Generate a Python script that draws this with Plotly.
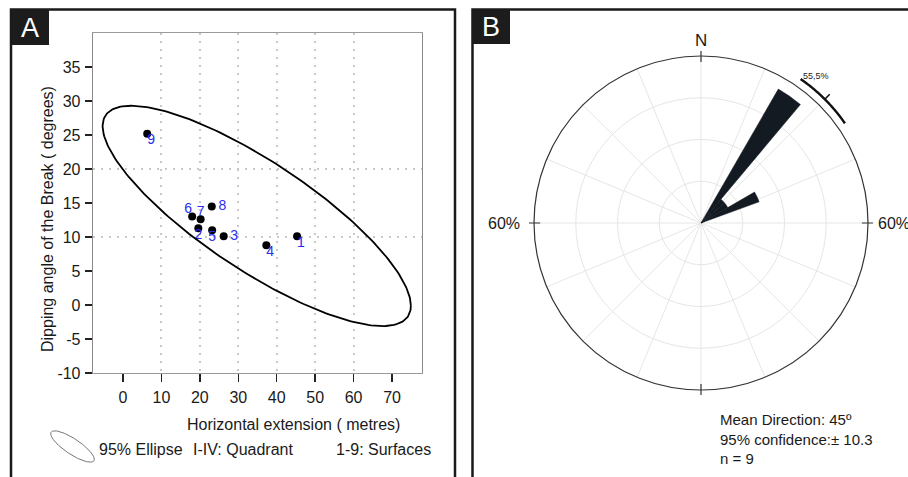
import numpy as np
import plotly.graph_objects as go

W, H = 908, 477
FONT = "Liberation Sans, Arial, sans-serif"

# ---------------- Panel A data ----------------
surface_ids = ["1", "2", "3", "4", "5", "6", "7", "8", "9"]
horizontal_extension_m = [45.3, 19.6, 26.2, 37.3, 23.2, 18.0, 20.2, 23.1, 6.3]
dipping_angle_deg = [10.1, 11.3, 10.1, 8.8, 11.0, 13.0, 12.6, 14.5, 25.2]
label_positions = ["bottom right", "bottom center", "middle right", "bottom right",
                   "bottom center", "top left", "top center", "middle right", "bottom right"]
label_gap = [0, 0, 9, 0, 0, 0, 0, 9, 0]  # invisible marker sizes that push side labels off the dots

x_tick_values = [0, 10, 20, 30, 40, 50, 60, 70]
y_tick_values = [-10, -5, 0, 5, 10, 15, 20, 25, 30, 35]
x_grid_values = [10, 20, 30, 40, 50, 60]
y_grid_values = [10, 20]

# 95% ellipse parameters (centre, half extents along x and y, phase between them)
ellipse_centre = (34.8, 13.1)
ellipse_half_extent = (40.1, 16.2)
ellipse_phase_deg = 144.6

# ---------------- Panel B data ----------------
bin_centres_deg = [35, 45, 55, 65]
bin_counts = [5, 1, 1, 2]
bin_width_deg = 10
n_total = 9
mean_direction_deg = 45
confidence_deg = 10.3
radial_max_pct = 60
peak_label = "55,5%"
legend_labels = ["95% Ellipse", "I-IV: Quadrant", "1-9: Surfaces"]
stats_lines = ["Mean Direction: 45º", "95% confidence:± 10.3", "n = 9"]


def fx(px):
    return px / W


def fy(py):
    return 1 - py / H


# ellipse outline
t = np.linspace(0, 2 * np.pi, 240)
ell_x = ellipse_centre[0] + ellipse_half_extent[0] * np.cos(t)
ell_y = ellipse_centre[1] + ellipse_half_extent[1] * np.cos(t - np.radians(ellipse_phase_deg))

fig = go.Figure()

# points
fig.add_trace(go.Scatter(
    x=horizontal_extension_m, y=dipping_angle_deg, mode="markers",
    marker=dict(size=8, color="black"), xaxis="x", yaxis="y",
    showlegend=False, cliponaxis=False, hoverinfo="skip"))
# point labels
fig.add_trace(go.Scatter(
    x=horizontal_extension_m, y=dipping_angle_deg, mode="markers+text",
    marker=dict(size=label_gap, opacity=0),
    text=surface_ids, textposition=label_positions,
    textfont=dict(family=FONT, size=14, color="#2a2cf0"),
    xaxis="x", yaxis="y", showlegend=False, cliponaxis=False, hoverinfo="skip"))

# ellipse on the overlay axes (same scale)
fig.add_trace(go.Scatter(
    x=ell_x, y=ell_y, mode="lines", line=dict(color="black", width=1.8),
    xaxis="x2", yaxis="y2", showlegend=False, hoverinfo="skip"))

# legend icon: the same ellipse, small
fig.add_trace(go.Scatter(
    x=ell_x, y=ell_y, mode="lines", line=dict(color="#777777", width=1),
    xaxis="x3", yaxis="y3", showlegend=False, hoverinfo="skip"))

# rose petals
pct = [c / n_total * 100 for c in bin_counts]
fig.add_trace(go.Barpolar(
    r=pct, theta=bin_centres_deg, width=[bin_width_deg] * len(pct),
    marker=dict(color="#131a22", line=dict(color="#131a22", width=0.5)),
    subplot="polar", showlegend=False, hoverinfo="skip"))

# confidence arc (on the wider overlay polar)
arc_r = 62.9
arc_theta = np.linspace(mean_direction_deg - confidence_deg, mean_direction_deg + confidence_deg, 60)
fig.add_trace(go.Scatterpolar(
    r=[arc_r] * len(arc_theta), theta=arc_theta, mode="lines",
    line=dict(color="#111111", width=2.4), subplot="polar2",
    showlegend=False, hoverinfo="skip"))
fig.add_trace(go.Scatterpolar(
    r=[arc_r, arc_r + 2.5], theta=[mean_direction_deg, mean_direction_deg], mode="lines",
    line=dict(color="#111111", width=1.6), subplot="polar2",
    showlegend=False, hoverinfo="skip"))

# cardinal ticks crossing the outer circle
ct_r, ct_th = [], []
for ang in [0, 90, 180, 270]:
    ct_r += [57.8, 61.8, None]
    ct_th += [ang, ang, None]
fig.add_trace(go.Scatterpolar(
    r=ct_r, theta=ct_th, mode="lines", line=dict(color="#333333", width=1.2),
    subplot="polar2", showlegend=False, hoverinfo="skip", connectgaps=False))

# ---------------- layout ----------------
x_dom = [fx(93), fx(422)]
y_dom = [fy(373), fy(33)]
x_rng = [-7.8, 77.8]
y_rng = [-10, 40]

cx_pol, cy_pol, R = 701, 223, 167
R2 = R * 66 / 60

axis_common = dict(zeroline=False, showgrid=False, automargin=False)

fig.update_layout(
    width=W, height=H, margin=dict(l=0, r=0, t=0, b=0, pad=0, autoexpand=False), autosize=False,
    showlegend=False,
    paper_bgcolor="white", plot_bgcolor="white",
    font=dict(family=FONT, color="#1a1a1a"),
    xaxis=dict(domain=x_dom, range=x_rng, tickmode="array", tickvals=x_tick_values,
               ticktext=[str(v) for v in x_tick_values],
               ticks="outside", ticklen=8, tickwidth=1.5, tickcolor="#222",
               showline=True, linecolor="#9a9a9a", linewidth=1.3, mirror=True,
               tickfont=dict(size=16, color="#1a1a1a"), ticklabelstandoff=1,
               anchor="y", **axis_common),
    yaxis=dict(domain=y_dom, range=y_rng, tickmode="array", tickvals=y_tick_values,
               ticktext=[str(v) for v in y_tick_values],
               ticks="outside", ticklen=7, tickwidth=1.5, tickcolor="#222",
               showline=True, linecolor="#8a8a8a", linewidth=1.3, mirror=True,
               tickfont=dict(size=16, color="#1a1a1a"), ticklabelstandoff=1,
               anchor="x", **axis_common),
    xaxis2=dict(domain=x_dom, range=x_rng, overlaying="x", anchor="y2",
                tickmode="array", tickvals=x_grid_values, showticklabels=False, ticks="",
                showgrid=True, gridcolor="#c8c8c8", gridwidth=2, griddash="2px,6px",
                zeroline=False, showline=False, automargin=False),
    yaxis2=dict(domain=y_dom, range=y_rng, overlaying="y", anchor="x2",
                tickmode="array", tickvals=y_grid_values, showticklabels=False, ticks="",
                showgrid=True, gridcolor="#c8c8c8", gridwidth=2, griddash="2px,6px",
                zeroline=False, showline=False, automargin=False),
    xaxis3=dict(domain=[fx(50), fx(95)],
                range=[ellipse_centre[0] - ellipse_half_extent[0] * 1.03,
                       ellipse_centre[0] + ellipse_half_extent[0] * 1.03],
                visible=False, anchor="y3", automargin=False),
    yaxis3=dict(domain=[fy(463), fy(430)],
                range=[ellipse_centre[1] - ellipse_half_extent[1] * 1.05,
                       ellipse_centre[1] + ellipse_half_extent[1] * 1.05],
                visible=False, anchor="x3", automargin=False),
    polar=dict(
        domain=dict(x=[fx(cx_pol - R), fx(cx_pol + R)], y=[fy(cy_pol + R), fy(cy_pol - R)]),
        bgcolor="white",
        angularaxis=dict(rotation=90, direction="clockwise", tickmode="linear", tick0=0,
                         dtick=22.5, showticklabels=False, ticks="",
                         showline=True, linecolor="#333333", linewidth=1.2,
                         gridcolor="#e6e6e6", gridwidth=1),
        radialaxis=dict(range=[0, radial_max_pct], tickmode="array", tickvals=[15, 30, 45, 60],
                        showticklabels=False, ticks="", showline=False,
                        gridcolor="#e6e6e6", gridwidth=1),
        bargap=0),
    polar2=dict(
        domain=dict(x=[fx(cx_pol - R2), fx(cx_pol + R2)], y=[fy(cy_pol + R2), fy(cy_pol - R2)]),
        bgcolor="rgba(0,0,0,0)",
        angularaxis=dict(rotation=90, direction="clockwise", visible=False, showgrid=False,
                         showline=False, showticklabels=False, ticks=""),
        radialaxis=dict(range=[0, 66], visible=False, showgrid=False, showline=False,
                        showticklabels=False, ticks="")),
)

shapes = [
    # panel frames
    dict(type="rect", xref="paper", yref="paper", x0=fx(11), x1=fx(455), y0=-0.05, y1=fy(9.5),
         line=dict(color="#1a1a1a", width=2.5), fillcolor="rgba(0,0,0,0)", layer="above"),
    dict(type="rect", xref="paper", yref="paper", x0=fx(472.5), x1=1.05, y0=-0.05, y1=fy(9.5),
         line=dict(color="#1a1a1a", width=2.5), fillcolor="rgba(0,0,0,0)", layer="above"),
    # label boxes
    dict(type="rect", xref="paper", yref="paper", x0=fx(11), x1=fx(49), y0=fy(45), y1=fy(9.5),
         line=dict(width=0), fillcolor="#1c1c1c", layer="above"),
    dict(type="rect", xref="paper", yref="paper", x0=fx(472.5), x1=fx(510), y0=fy(44), y1=fy(9.5),
         line=dict(width=0), fillcolor="#1c1c1c", layer="above"),
]
fig.update_layout(shapes=shapes)

ann = []


def add_text(text, x, y, size, xanchor="center", yanchor="middle", color="#1a1a1a", angle=0, align="left"):
    ann.append(dict(text=text, x=fx(x), y=fy(y), xref="paper", yref="paper", showarrow=False,
                    xanchor=xanchor, yanchor=yanchor, textangle=angle, align=align,
                    font=dict(family=FONT, size=size, color=color)))


add_text("A", 30, 28, 27, color="white")
add_text("B", 491, 27, 27, color="white")
add_text("Dipping angle of the Break ( degrees)", 47, 219, 16, angle=-90)
add_text("Horizontal extension ( metres)", 293.5, 424, 16)
add_text(legend_labels[0], 97, 449, 16, xanchor="left")
add_text(legend_labels[1], 191, 449, 16, xanchor="left")
add_text(legend_labels[2], 334, 449, 16, xanchor="left")
add_text("N", 701, 40, 17)
add_text("60%", 522, 223, 16, xanchor="right")
add_text("60%", 876, 223, 16, xanchor="left")
add_text(peak_label, 816, 76, 9, color="#222")
add_text("<br>".join(stats_lines), 718, 439, 15, xanchor="left")
fig.update_layout(annotations=ann)

post = (
    "document.documentElement.style.margin='0';"
    "document.documentElement.style.overflow='hidden';"
    "document.body.style.margin='0';document.body.style.padding='0';"
    "document.body.style.overflow='hidden';"
    "var gd=document.getElementById('{plot_id}');"
    "gd.style.position='fixed';gd.style.left='0px';gd.style.top='0px';"
)
fig.write_html("out.html",
               config={"displayModeBar": False, "staticPlot": True, "responsive": False},
               post_script=post, default_width="908px", default_height="477px")
